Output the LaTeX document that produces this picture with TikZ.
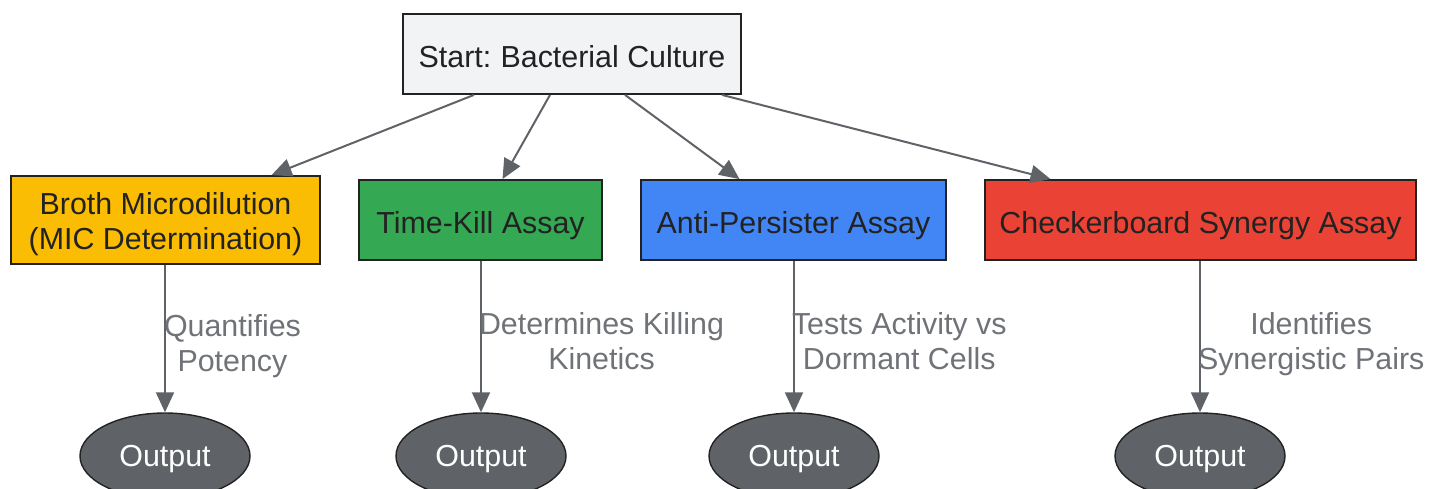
\documentclass[tikz,border=0pt]{standalone}
\usepackage{fontspec}
\setmainfont{Liberation Sans}
\usetikzlibrary{shapes.geometric,arrows.meta,positioning}

\definecolor{startfill}{HTML}{F1F3F4}
\definecolor{brothfill}{HTML}{FBBC04}
\definecolor{killfill}{HTML}{34A853}
\definecolor{persfill}{HTML}{4285F4}
\definecolor{checkfill}{HTML}{EA4335}
\definecolor{edgegray}{HTML}{5F6368}
\definecolor{lblgray}{HTML}{6F7378}
\definecolor{inkdark}{HTML}{222222}

\tikzset{
	assay/.style={draw=inkdark, line width=0.9pt, align=center, inner sep=0pt,
		text=inkdark, minimum height=40pt, text height=13pt, text depth=0pt},
	result/.style={ellipse, draw=inkdark, line width=0.7pt, fill=edgegray,
		text=white, minimum width=85pt, minimum height=43pt, inner sep=0pt, text depth=0pt},
	flow/.style={draw=edgegray, line width=1pt, -{Triangle[length=10pt,width=9pt]}},
	edgetext/.style={text=lblgray, align=center, anchor=west, inner sep=0pt, text depth=0pt, yshift=-2pt}
}

\begin{document}
\begin{tikzpicture}[x=0.5pt, y=-0.5pt, font=\fontsize{15.2}{17.5}\selectfont]
	\useasboundingbox (0,0) rectangle (1431,488);

	\node[assay, fill=startfill, minimum width=169pt]	(start)	at (572,54)		{Start:\hspace{-1pt} Bacterial Culture};
	\node[assay, fill=brothfill, minimum width=154.5pt, minimum height=44pt, text height=29.3pt]	(broth)	at (165.5,220)	{Broth Microdilution\\(MIC Determination)};
	\node[assay, fill=killfill, minimum width=121.5pt]	(kill)	at (480.5,220)	{Time-Kill Assay};
	\node[assay, fill=persfill, minimum width=152.5pt]	(pers)	at (793.5,220)	{Anti-Persister Assay};
	\node[assay, fill=checkfill, minimum width=215.5pt]	(check)	at (1200.5,220)	{Checkerboard Synergy Assay};

	\node[result]	(outA)	at (165,456)	{Output};
	\node[result]	(outB)	at (481,456)	{Output};
	\node[result]	(outC)	at (794,456)	{Output};
	\node[result]	(outD)	at (1200,456)	{Output};

	\draw[flow]	([xshift=-49pt]start.south)	-- ([xshift=53pt]broth.north);
	\draw[flow]	([xshift=-11pt]start.south)	-- ([xshift=11pt]kill.north);
	\draw[flow]	([xshift=26.5pt]start.south)	-- ([xshift=-27pt]pers.north);
	\draw[flow]	([xshift=75pt]start.south)	-- ([xshift=-75pt]check.north);

	\draw[flow]	(broth.south -| outA)	-- (outA.north) node[midway, edgetext, xshift=-1pt] {Quantifies\\Potency};
	\draw[flow]	(kill.south -| outB)	-- (outB.north) node[midway, edgetext, xshift=-1.5pt] {Determines Killing\\Kinetics};
	\draw[flow]	(pers.south -| outC)	-- (outC.north) node[midway, edgetext, xshift=-1.5pt] {Tests Activity vs\\Dormant Cells};
	\draw[flow]	(check.south -| outD)	-- (outD.north) node[midway, edgetext, xshift=-1.5pt] {Identifies\\Synergistic Pairs};
\end{tikzpicture}
\end{document}
